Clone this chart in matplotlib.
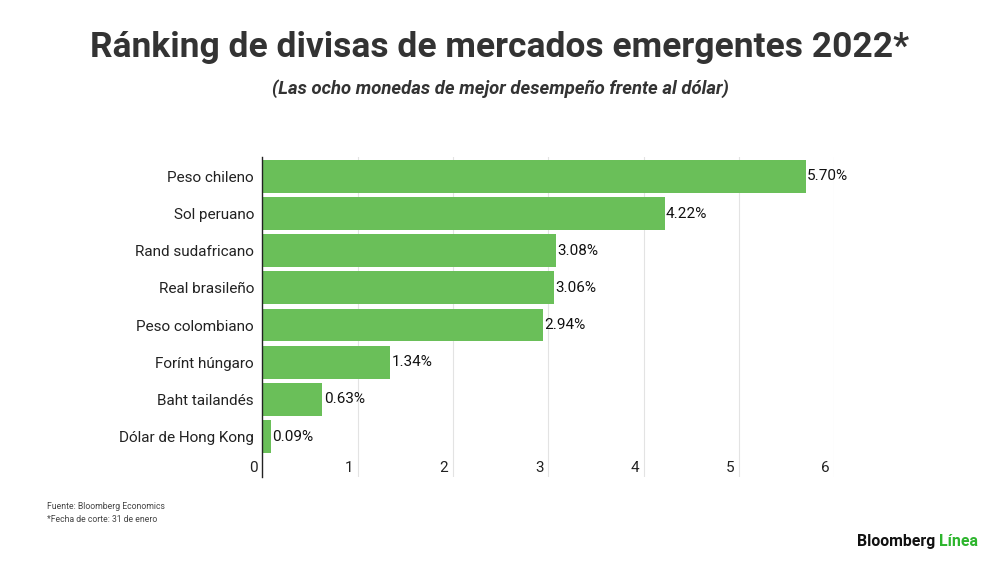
import matplotlib
matplotlib.use("Agg")
import matplotlib.pyplot as plt
from matplotlib.transforms import blended_transform_factory, offset_copy

categories = ["Peso chileno", "Sol peruano", "Rand sudafricano", "Real brasileño",
              "Peso colombiano", "Forínt húngaro", "Baht tailandés", "Dólar de Hong Kong"]
values = [5.70, 4.22, 3.08, 3.06, 2.94, 1.34, 0.63, 0.09]
value_labels = ["5.70%", "4.22%", "3.08%", "3.06%", "2.94%", "1.34%", "0.63%", "0.09%"]
xticks = [0, 1, 2, 3, 4, 5, 6]

title = "Ránking de divisas de mercados emergentes 2022*"
subtitle = "(Las ocho monedas de mejor desempeño frente al dólar)"
source = "Fuente: Bloomberg Economics"
note = "*Fecha de corte: 31 de enero"

plt.rcParams['font.family'] = ['Roboto', 'DejaVu Sans']

fig = plt.figure(figsize=(10, 5.62), dpi=100)
ax = fig.add_axes([0.2624, 0.1512, 0.5719, 0.5694])

ypos = list(range(len(categories)))
ax.barh(ypos, values, height=0.88, color="#6abf59")
ax.set_xlim(0, 6)
ax.set_ylim(8.09, -0.52)

for x in xticks[1:]:
    ax.axvline(x, color="#e3e3e3", lw=0.8, zorder=0)

ax.set_yticks(ypos)
ax.set_yticklabels(categories, fontsize=11, color="#222222")
ax.tick_params(axis='y', length=0, pad=6)
ax.set_xticks([])
for s in ["top", "right", "bottom"]:
    ax.spines[s].set_visible(False)
ax.spines["left"].set_color("#222222")
ax.spines["left"].set_linewidth(1.0)

for y, v, lab in zip(ypos, values, value_labels):
    ax.text(v, y, lab, va="center", ha="left", fontsize=11, color="#111111",
            transform=offset_copy(ax.transData, fig=fig, x=1.0, y=0, units='points'))

tr = blended_transform_factory(ax.transData, ax.transAxes)
tr = offset_copy(tr, fig=fig, x=-3.5, y=0, units='points')
for x in xticks:
    ax.text(x, 0.028, str(x), ha="right", va="center", fontsize=11, color="#222222", transform=tr)

fig.text(0.5, 0.915, title, ha="center", va="center", fontsize=25.5, fontweight="bold",
         color="#333333")
fig.text(0.5, 0.843, subtitle, ha="center", va="center", fontsize=13.3, fontweight="bold",
         style="italic", color="#333333")

fig.text(0.047, 0.099, source, ha="left", va="center", fontsize=6.2, color="#444444")
fig.text(0.047, 0.076, note, ha="left", va="center", fontsize=6.2, color="#444444")

t1 = fig.text(0.857, 0.037, "Bloomberg", ha="left", va="center", fontsize=11.4,
              fontweight="bold", color="#111111")
fig.canvas.draw()
bb = t1.get_window_extent()
fig.text(bb.x1 / 1000 + 0.004, 0.037, "Línea", ha="left", va="center", fontsize=11.4,
         fontweight="bold", color="#2db52d")

fig.savefig("out.png", dpi=100)
